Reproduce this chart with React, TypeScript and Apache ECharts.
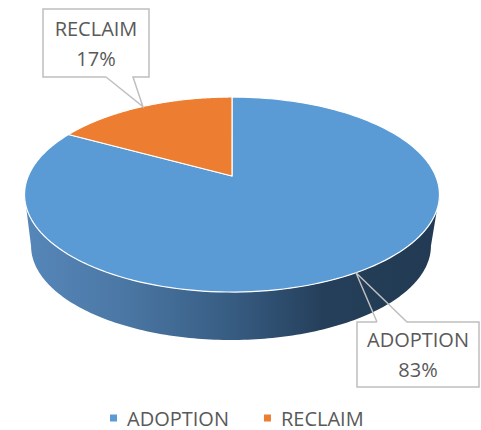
import React, { useEffect, useRef } from 'react';
import * as echarts from 'echarts';

const categories = ['ADOPTION', 'RECLAIM'];
const values = [83, 17];
const colors = ['#5B9BD5', '#ED7D31'];

// projection of the tilted disc (perspective)
const X0 = 232, Y0 = 176, A = 203.7, B = 94, K = 0.19;
const XB = 231, YB = 228, AB = 196.3, BB = 90.7;

const topPt = (phi: number) => {
  const u = Math.sin(phi), v = Math.cos(phi), w = 1 + K * v;
  return [X0 + (A * u) / w, Y0 - (B * v) / w];
};
const botPt = (phi: number) => {
  const u = Math.sin(phi), v = Math.cos(phi), w = 1 + K * v;
  return [XB + (AB * u) / w, YB - (BB * v) / w];
};

const labelLayout = [
  { box: [357, 322, 122, 65], base: [377, 407], below: true },
  { box: [43, 9, 106, 68], base: [106, 133], below: false },
];

const FONT = '"Open Sans"';

export default function App() {
  const ref = useRef<HTMLDivElement>(null);
  useEffect(() => {
    if (!ref.current) return;
    const chart = echarts.init(ref.current, null, { renderer: 'svg' });
    const total = values.reduce((a, b) => a + b, 0);
    const cum: number[] = [];
    values.reduce((acc, v, i) => { cum[i] = acc; return acc + v; }, 0);

    const makeRender = (si: number) => (params: any, api: any) => {
      const val = api.value(0);
      const p1 = (cum[si] / total) * Math.PI * 2;
      const p2 = ((cum[si] + val) / total) * Math.PI * 2;
      const N = 160;
      const children: any[] = [];
      // side wall
      const a = Math.asin(K);
      const lo = Math.max(p1, Math.PI / 2 + a);
      const hi = Math.min(p2, (3 * Math.PI) / 2 - a);
      if (hi > lo) {
        const pts: number[][] = [];
        for (let j = 0; j <= N; j++) pts.push(topPt(lo + ((hi - lo) * j) / N));
        for (let j = N; j >= 0; j--) pts.push(botPt(lo + ((hi - lo) * j) / N));
        children.push({
          type: 'polygon',
          z2: 1,
          shape: { points: pts },
          style: {
            fill: new echarts.graphic.LinearGradient(0, 0, 1, 0, [
              { offset: 0, color: '#5687ba' },
              { offset: 0.25, color: '#4a76a3' },
              { offset: 0.5, color: '#375c82' },
              { offset: 0.72, color: '#253f5a' },
              { offset: 1, color: '#223a53' },
            ]),
            stroke: null,
          },
        });
      }
      // top face
      const tp: number[][] = [[X0, Y0]];
      for (let j = 0; j <= N; j++) tp.push(topPt(p1 + ((p2 - p1) * j) / N));
      children.push({
        type: 'polygon',
        z2: 5,
        shape: { points: tp },
        style: { fill: colors[si], stroke: '#ffffff', lineWidth: 1.2, lineJoin: 'round' },
      });
      // callout label
      const L = labelLayout[si];
      const [bx, by, bw, bh] = L.box;
      const tip = topPt((p1 + p2) / 2);
      const outline = L.below
        ? [[L.base[0], by], tip, [L.base[1], by], [bx + bw, by], [bx + bw, by + bh], [bx, by + bh], [bx, by], [L.base[0], by]]
        : [[L.base[0], by + bh], tip, [L.base[1], by + bh], [bx + bw, by + bh], [bx + bw, by], [bx, by], [bx, by + bh], [L.base[0], by + bh]];
      children.push({
        type: 'rect', z2: 20,
        shape: { x: bx, y: by, width: bw, height: bh },
        style: { fill: '#ffffff', stroke: null },
      });
      children.push({
        type: 'polyline', z2: 21,
        shape: { points: outline },
        style: { fill: null, stroke: '#bfbfbf', lineWidth: 1.5 },
      });
      const pct = Math.round((val / total) * 100) + '%';
      children.push({
        type: 'text', z2: 22,
        style: {
          text: categories[si] + '\n' + pct,
          x: bx + bw / 2,
          y: by + bh / 2,
          align: 'center',
          verticalAlign: 'middle',
          fontFamily: FONT,
          fontSize: 20,
          lineHeight: 30,
          fill: '#595959',
        },
      });
      return { type: 'group', children };
    };

    chart.setOption({
      animation: false,
      backgroundColor: '#ffffff',
      legend: {
        data: categories,
        left: 110,
        top: 408,
        padding: 0,
        icon: 'rect',
        itemWidth: 7,
        itemHeight: 7,
        itemGap: 35,
        selectedMode: false,
        textStyle: { fontFamily: FONT, fontSize: 20, color: '#595959', padding: [0, 0, 0, 5] },
      },
      series: categories.map((name, i) => ({
        type: 'custom',
        name,
        coordinateSystem: 'none',
        silent: true,
        itemStyle: { color: colors[i] },
        data: [values[i]],
        renderItem: makeRender(i),
      })),
    });
    return () => chart.dispose();
  }, []);
  return (
    <div
      ref={ref}
      style={{ position: 'fixed', left: 0, top: 0, width: 481, height: 430 }}
    />
  );
}
